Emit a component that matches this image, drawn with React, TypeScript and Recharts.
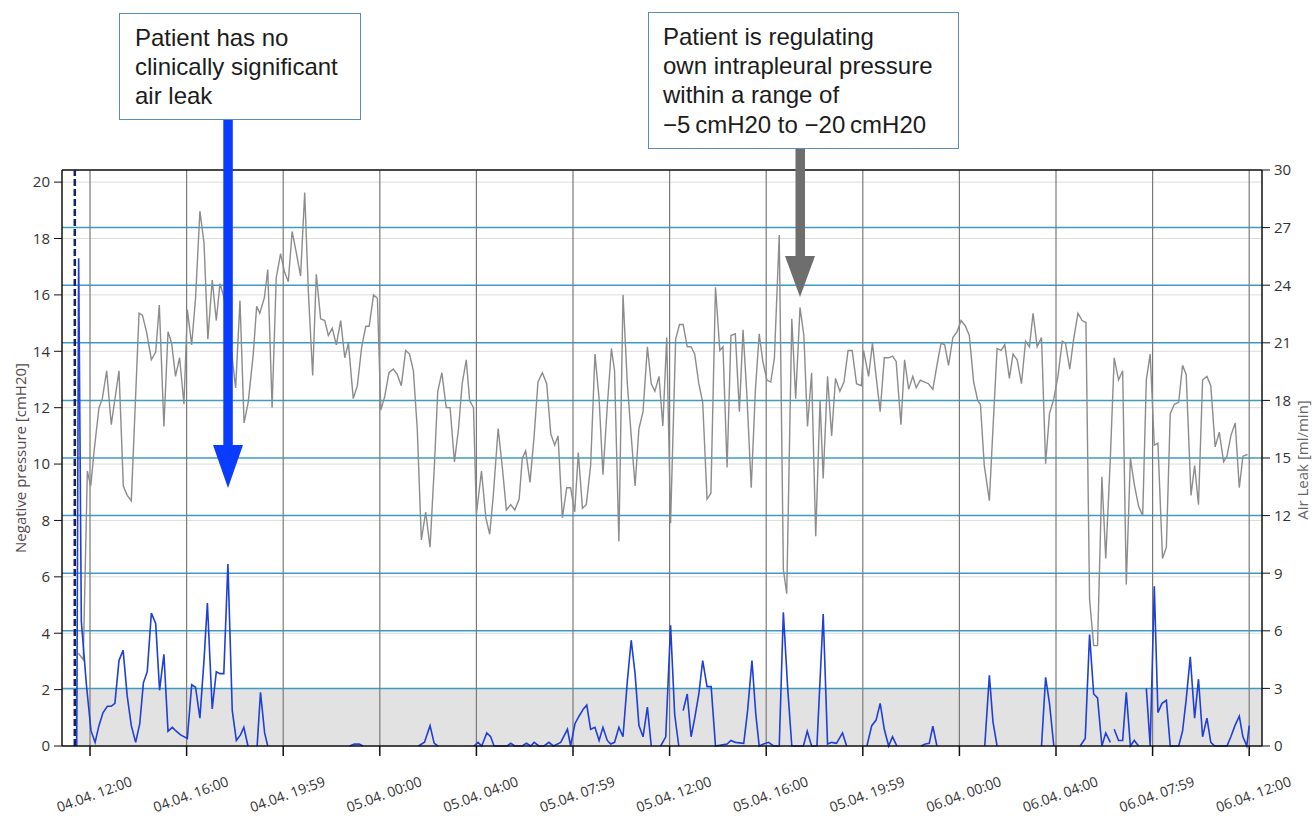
import {
  CartesianGrid,
  ComposedChart,
  Line,
  ReferenceArea,
  ReferenceLine,
  XAxis,
  YAxis,
} from "recharts";

// hours counted from 04.04. 12:00
const xTickHours = [0, 4, 8, 12, 16, 20, 24, 28, 32, 36, 40, 44, 48];
const xTickLabels = [
  "04.04. 12:00",
  "04.04. 16:00",
  "04.04. 19:59",
  "05.04. 00:00",
  "05.04. 04:00",
  "05.04. 07:59",
  "05.04. 12:00",
  "05.04. 16:00",
  "05.04. 19:59",
  "06.04. 00:00",
  "06.04. 04:00",
  "06.04. 07:59",
  "06.04. 12:00",
];
const pressureTicks = [0, 2, 4, 6, 8, 10, 12, 14, 16, 18, 20];
const leakTicks = [0, 3, 6, 9, 12, 15, 18, 21, 24, 27, 30];

const timeDomain: [number, number] = [-1.16, 48.53];
const pressureMax = 20.43;
const leakMax = 30;
const leakThreshold = 3;
const startMarkerHour = -0.63;

// negative pressure [cmH20], left axis
const pressurePoints: [number, number][] = [
  [-0.48, 3.29], [-0.28, 3.06], [-0.11, 9.75], [0.03, 9.22], [0.17, 10.47], [0.37, 11.99],
  [0.51, 12.32], [0.69, 13.31], [0.88, 11.4], [1.2, 13.31], [1.38, 9.22], [1.54, 8.89],
  [1.71, 8.7], [2.03, 15.35], [2.17, 15.28], [2.34, 14.69], [2.54, 13.7], [2.72, 13.97],
  [2.87, 15.64], [3.06, 11.33], [3.23, 14.69], [3.38, 14.29], [3.54, 13.11], [3.71, 13.77],
  [3.89, 12.12], [4.03, 15.48], [4.21, 14.23], [4.37, 15.88], [4.55, 18.97], [4.72, 17.85],
  [4.88, 14.43], [5.06, 16.53], [5.23, 15.09], [5.38, 16.4], [5.54, 15.94], [5.75, 14.8],
  [6.03, 12.7], [6.21, 15.8], [6.38, 11.46], [6.55, 12.19], [6.76, 13.9], [6.9, 15.6],
  [7.03, 15.35], [7.22, 15.9], [7.36, 16.9], [7.54, 12.0], [7.71, 16.6], [7.89, 17.46],
  [8.06, 16.8], [8.21, 16.47], [8.37, 18.25], [8.55, 17.46], [8.72, 16.67], [8.89, 19.63],
  [9.04, 16.14], [9.22, 13.14], [9.37, 16.73], [9.55, 15.15], [9.72, 15.09], [9.87, 14.56],
  [10.03, 14.82], [10.2, 14.23], [10.38, 15.09], [10.55, 13.77], [10.7, 14.29], [10.9, 12.32],
  [11.07, 12.78], [11.25, 14.16], [11.42, 14.89], [11.56, 14.89], [11.74, 16.0], [11.9, 15.88],
  [12.04, 11.92], [12.2, 12.38], [12.38, 13.24], [12.56, 13.37], [12.72, 13.18], [12.89, 12.78],
  [13.07, 14.03], [13.23, 13.9], [13.39, 13.31], [13.55, 11.26], [13.72, 7.31], [13.9, 8.3],
  [14.08, 7.05], [14.26, 9.95], [14.4, 12.58], [14.57, 13.24], [14.75, 12.0], [14.91, 12.0],
  [15.09, 10.08], [15.26, 11.26], [15.41, 12.85], [15.58, 13.7], [15.72, 12.25], [15.88, 12.0],
  [16.0, 8.23], [16.21, 9.75], [16.39, 8.1], [16.55, 7.51], [16.7, 8.89], [16.9, 11.26],
  [17.08, 9.82], [17.24, 8.37], [17.42, 8.56], [17.59, 8.37], [17.77, 8.76], [17.9, 10.21],
  [18.04, 10.47], [18.22, 9.35], [18.39, 11.0], [18.55, 12.91], [18.73, 13.24], [18.91, 12.85],
  [19.08, 11.07], [19.24, 10.67], [19.38, 11.0], [19.56, 8.1], [19.74, 9.16], [19.9, 9.16],
  [20.07, 8.3], [20.22, 10.41], [20.39, 8.43], [20.55, 8.56], [20.73, 9.95], [20.91, 13.9],
  [21.08, 12.32], [21.24, 9.62], [21.42, 12.06], [21.59, 14.1], [21.72, 13.31], [21.9, 7.25],
  [22.07, 16.0], [22.25, 12.85], [22.41, 11.0], [22.57, 9.22], [22.73, 11.26], [22.9, 11.86],
  [23.08, 14.16], [23.24, 12.85], [23.39, 12.58], [23.56, 13.11], [23.72, 11.35], [23.88, 14.49],
  [24.04, 7.9], [24.25, 14.43], [24.41, 14.95], [24.56, 14.95], [24.73, 14.16], [24.89, 14.16],
  [25.04, 13.9], [25.21, 12.85], [25.37, 12.19], [25.55, 8.76], [25.71, 8.96], [25.9, 16.27],
  [26.08, 14.03], [26.21, 14.16], [26.38, 9.88], [26.54, 14.56], [26.72, 14.62], [26.89, 11.86],
  [27.04, 14.76], [27.2, 12.45], [27.38, 9.16], [27.55, 12.58], [27.71, 14.62], [27.86, 13.64],
  [28.03, 12.98], [28.19, 12.91], [28.34, 13.77], [28.54, 18.12], [28.71, 6.26], [28.85, 5.4],
  [29.06, 15.15], [29.22, 12.32], [29.4, 15.55], [29.56, 14.56], [29.71, 11.33], [29.88, 13.24],
  [30.05, 7.44], [30.23, 12.25], [30.36, 9.49], [30.54, 13.11], [30.71, 11.0], [30.87, 13.04],
  [31.05, 12.58], [31.22, 12.91], [31.39, 14.03], [31.56, 14.03], [31.74, 12.85], [31.94, 12.78],
  [32.03, 14.03], [32.24, 13.11], [32.4, 14.29], [32.55, 13.11], [32.72, 11.86], [32.89, 13.77],
  [33.07, 13.77], [33.23, 13.83], [33.38, 13.64], [33.58, 11.4], [33.73, 13.7], [33.9, 12.65],
  [34.07, 13.11], [34.21, 12.71], [34.38, 12.98], [34.56, 12.91], [34.72, 12.85], [34.9, 12.65],
  [35.07, 13.5], [35.24, 14.29], [35.39, 14.23], [35.55, 13.5], [35.73, 14.49], [35.9, 14.69],
  [36.07, 15.09], [36.25, 14.89], [36.41, 14.56], [36.59, 12.91], [36.76, 12.25], [36.87, 12.12],
  [37.03, 9.95], [37.24, 8.7], [37.39, 11.26], [37.56, 14.1], [37.73, 14.03], [37.88, 14.23],
  [38.07, 13.04], [38.22, 13.9], [38.39, 13.7], [38.57, 12.85], [38.74, 14.36], [38.9, 14.16],
  [39.05, 15.35], [39.22, 14.16], [39.4, 14.49], [39.57, 10.01], [39.73, 11.79], [39.91, 12.32],
  [40.08, 13.11], [40.26, 14.36], [40.39, 14.29], [40.57, 13.37], [40.73, 14.43], [40.91, 15.35],
  [41.08, 15.09], [41.24, 15.02], [41.39, 5.2], [41.56, 3.56], [41.72, 3.56], [41.9, 9.55],
  [42.06, 6.65], [42.25, 10.21], [42.41, 13.77], [42.59, 12.98], [42.76, 13.31], [42.91, 5.73],
  [43.08, 10.21], [43.24, 9.29], [43.42, 8.5], [43.59, 8.17], [43.74, 12.98], [43.9, 13.9],
  [44.07, 10.67], [44.22, 10.74], [44.41, 6.65], [44.57, 7.05], [44.73, 11.79], [44.9, 12.12],
  [45.08, 12.19], [45.24, 13.5], [45.39, 13.18], [45.59, 8.89], [45.74, 9.95], [45.9, 8.56],
  [46.07, 12.98], [46.25, 13.11], [46.41, 12.78], [46.59, 10.61], [46.76, 11.13], [46.94, 10.08],
  [47.08, 10.28], [47.24, 11.0], [47.42, 11.46], [47.59, 9.16], [47.74, 10.28], [47.93, 10.34],
];

// air leak [ml/min], right axis; null = no reading
const leakPoints: [number, number | null][] = [
  [-0.55, 0], [-0.47, 25.4], [-0.36, 6.5], [-0.15, 3.2], [0.04, 0.8], [0.21, 0.19], [0.37, 1.06],
  [0.54, 1.74], [0.72, 2.07], [0.88, 2.07], [1.03, 2.22], [1.2, 4.45], [1.37, 4.99], [1.54, 2.61],
  [1.71, 1.06], [1.89, 0.19], [2.06, 1.16], [2.21, 3.29], [2.37, 3.87], [2.54, 6.92], [2.72, 6.38],
  [2.88, 2.9], [3.06, 4.78], [3.23, 0.77], [3.41, 0.97], [3.57, 0.77], [3.75, 0.58], [4.03, 0.39],
  [4.21, 3.19], [4.37, 3.06], [4.55, 1.45], [4.72, 4.45], [4.86, 7.45], [5.06, 1.93], [5.23, 3.87],
  [5.38, 3.77], [5.54, 3.77], [5.71, 9.48], [5.89, 1.84], [6.06, 0.29], [6.23, 0.58], [6.37, 0.97],
  [6.54, 0], [6.75, null], [6.92, 0], [7.06, 2.8], [7.23, 0.68], [7.36, 0], [7.5, null],
  [10.75, 0], [10.95, 0.1], [11.15, 0.1], [11.3, 0], [11.4, null],
  [13.6, 0], [13.85, 0.2], [14.08, 1.06], [14.25, 0.15], [14.4, 0], [14.5, null],
  [15.9, 0], [16.07, 0.19], [16.22, 0], [16.43, 0.68], [16.59, 0.48], [16.73, 0], [17.28, 0],
  [17.42, 0.14], [17.59, 0], [17.9, 0], [18.07, 0.14], [18.25, 0], [18.39, 0.19], [18.59, 0],
  [18.8, 0], [19.0, 0.19], [19.19, 0], [19.49, 0.19], [19.77, 0.87], [19.9, 0], [20.08, 1.16],
  [20.25, 1.55], [20.43, 1.93], [20.57, 2.13], [20.73, 0.87], [20.91, 0.97], [21.08, 0.29],
  [21.24, 0.97], [21.42, 0.29], [21.56, 0.1], [21.72, 0.19], [21.9, 0.97], [22.07, 0.48],
  [22.25, 3.38], [22.41, 5.51], [22.57, 3.77], [22.73, 1.06], [22.9, 0.48], [23.08, 2.03],
  [23.24, 0], [23.4, null],
  [23.63, 0], [23.84, 0.48], [24.04, 6.29], [24.21, 1.64], [24.38, 0], [24.47, null],
  [24.56, 1.84], [24.73, 2.71], [24.89, 0.48], [25.04, 1.45], [25.21, 2.71], [25.37, 4.45],
  [25.55, 3.09], [25.72, 3.09], [25.9, 0], [26.38, 0.1], [26.54, 0.29], [26.72, 0.19],
  [27.07, 0.14], [27.23, 1.84], [27.41, 4.45], [27.57, 1.64], [27.71, 0], [27.89, 0.1],
  [28.1, 0.19], [28.3, 0], [28.54, 0], [28.71, 6.96], [28.89, 3.0], [29.06, 0], [29.54, 0],
  [29.7, 0.77], [29.88, 0], [30.1, 0], [30.36, 6.87], [30.54, 0.1], [30.71, 0.19], [30.91, 0.14],
  [31.16, 0.68], [31.33, 0], [31.5, null],
  [32.17, 0], [32.37, 1.06], [32.55, 1.35], [32.72, 2.22], [32.89, 0.87], [33.07, 0],
  [33.23, 0.48], [33.41, 0], [33.9, null],
  [34.41, 0], [34.59, 0.1], [34.75, 0.14], [34.9, 1.03], [35.07, 0], [35.5, null],
  [37.05, 0], [37.24, 3.68], [37.39, 1.26], [37.56, 0], [38.0, null],
  [39.4, 0], [39.57, 3.58], [39.73, 2.22], [39.91, 0], [40.5, null],
  [41.0, 0], [41.21, 0.39], [41.39, 5.8], [41.56, 2.71], [41.72, 2.51], [41.9, 0], [42.06, 0.68],
  [42.25, 0.19], [42.33, null],
  [42.41, 0.87], [42.59, 0.29], [42.76, 0.29], [42.91, 2.8], [43.08, 0], [43.24, 0.29],
  [43.42, 0], [43.6, null],
  [43.74, 3.0], [43.9, 0], [44.07, 8.32], [44.22, 1.74], [44.39, 2.22], [44.57, 2.38], [44.73, 0],
  [45.08, 0], [45.24, 0.77], [45.39, 2.42], [45.56, 4.64], [45.74, 1.45], [45.9, 3.48],
  [46.07, 0.48], [46.25, 1.45], [46.41, 0.19], [46.57, 0], [47.08, 0], [47.24, 0.48],
  [47.41, 1.06], [47.59, 1.55], [47.74, 0.48], [47.9, 0], [48.0, 1.06],
];

const pressureData = pressurePoints.map(([t, v]) => ({ t, v }));
const leakData = leakPoints.map(([t, v]) => ({ t, v }));

const tickFont = "'Open Sans', 'DejaVu Sans', sans-serif";
const noteFont = "'Liberation Sans', Arial, sans-serif";

function TimeTick({ x, y, payload }: { x?: number; y?: number; payload?: { value: number } }) {
  const index = xTickHours.indexOf(payload?.value ?? -1);
  const cx = (x ?? 0) + 6;
  const cy = (y ?? 0) + 41;
  return (
    <text
      x={cx}
      y={cy}
      transform={`rotate(-20, ${cx}, ${cy})`}
      textAnchor="middle"
      fontSize={14}
      fill="#333"
      fontFamily={tickFont}
    >
      {xTickLabels[index]}
    </text>
  );
}

export default function App() {
  return (
    <div style={{ position: "absolute", left: 0, top: 0, width: 1312, height: 816, background: "#fff" }}>
      <ComposedChart width={1312} height={816} margin={{ top: 170, right: 0, bottom: 0, left: 0 }}>
        <XAxis
          xAxisId="time"
          dataKey="t"
          type="number"
          domain={timeDomain}
          allowDataOverflow
          ticks={xTickHours}
          interval={0}
          height={70}
          tickSize={10}
          axisLine={{ stroke: "#111", strokeWidth: 1.5 }}
          tickLine={{ stroke: "#111", strokeWidth: 1.5 }}
          tick={<TimeTick />}
        />
        <YAxis
          yAxisId="left"
          orientation="left"
          width={62}
          domain={[0, pressureMax]}
          ticks={pressureTicks}
          interval={0}
          tickSize={8}
          tickMargin={4}
          axisLine={{ stroke: "#111", strokeWidth: 1.5 }}
          tickLine={{ stroke: "#111" }}
          tick={{ fill: "#333", fontSize: 15, fontFamily: tickFont }}
        />
        <YAxis
          yAxisId="right"
          orientation="right"
          width={50}
          domain={[0, leakMax]}
          ticks={leakTicks}
          interval={0}
          tickSize={8}
          tickMargin={4}
          axisLine={{ stroke: "#111", strokeWidth: 1.5 }}
          tickLine={{ stroke: "#111" }}
          tick={{ fill: "#333", fontSize: 15, fontFamily: tickFont }}
        />

        <ReferenceArea
          xAxisId="time"
          yAxisId="right"
          x1={startMarkerHour}
          x2={timeDomain[1]}
          y1={0}
          y2={leakThreshold}
          fill="#e2e2e2"
          fillOpacity={1}
          stroke="none"
        />
        <CartesianGrid xAxisId="time" yAxisId="left" vertical={false} stroke="#dcdcdc" />
        {leakTicks
          .filter((tick) => tick > 0 && tick < leakMax)
          .map((tick) => (
            <ReferenceLine
              key={`leak-${tick}`}
              xAxisId="time"
              yAxisId="right"
              y={tick}
              stroke="#3d9cc3"
              strokeWidth={1.5}
            />
          ))}
        {xTickHours.map((hour) => (
          <ReferenceLine
            key={`hour-${hour}`}
            xAxisId="time"
            yAxisId="left"
            x={hour}
            stroke="#7a7a7a"
            strokeWidth={1.2}
          />
        ))}
        <ReferenceLine xAxisId="time" yAxisId="right" y={leakMax} stroke="#111" strokeWidth={1.5} />
        <ReferenceLine
          xAxisId="time"
          yAxisId="left"
          x={startMarkerHour}
          stroke="#13206b"
          strokeWidth={2.5}
          strokeDasharray="7 3"
        />

        <Line
          xAxisId="time"
          yAxisId="left"
          data={pressureData}
          dataKey="v"
          type="linear"
          stroke="#8c8c8c"
          strokeWidth={1.4}
          dot={false}
          isAnimationActive={false}
        />
        <Line
          xAxisId="time"
          yAxisId="right"
          data={leakData}
          dataKey="v"
          type="linear"
          stroke="#1f3fd6"
          strokeWidth={1.6}
          dot={false}
          isAnimationActive={false}
        />
      </ComposedChart>

      <svg
        width={1312}
        height={816}
        style={{ position: "absolute", left: 0, top: 0, pointerEvents: "none" }}
      >
        <text
          x={26}
          y={458}
          transform="rotate(-90, 26, 458)"
          textAnchor="middle"
          fontSize={15}
          fill="#554a4a"
          fontFamily={tickFont}
        >
          Negative pressure [cmH20]
        </text>
        <text
          x={1308}
          y={460}
          transform="rotate(-90, 1308, 460)"
          textAnchor="middle"
          fontSize={15}
          fill="#666"
          fontFamily={tickFont}
        >
          Air Leak [ml/min]
        </text>

        <rect x={119.5} y={13.5} width={241} height={106} fill="#fff" stroke="#5a8cbf" />
        <text fontFamily={noteFont} fontSize={24} fill="#1c1c1c">
          <tspan x={135} y={46}>Patient has no</tspan>
          <tspan x={135} y={75}>clinically significant</tspan>
          <tspan x={135} y={104}>air leak</tspan>
        </text>
        <rect x={223.3} y={120} width={9.5} height={326} fill="#0a3cff" />
        <polygon points="213,445 243,445 228,488" fill="#0a3cff" />

        <rect x={648.5} y={12.5} width={310} height={136} fill="#fff" stroke="#5a8cbf" />
        <text fontFamily={noteFont} fontSize={24} fill="#1c1c1c">
          <tspan x={663} y={45}>Patient is regulating</tspan>
          <tspan x={663} y={74}>own intrapleural pressure</tspan>
          <tspan x={663} y={103}>within a range of</tspan>
          <tspan x={663} y={133}>{"\u22125\u2009cmH20 to \u221220\u2009cmH20"}</tspan>
        </text>
        <rect x={795.5} y={149} width={9.5} height={108} fill="#6e6e6e" />
        <polygon points="785,256 815,256 800,297" fill="#6e6e6e" />
      </svg>
    </div>
  );
}
